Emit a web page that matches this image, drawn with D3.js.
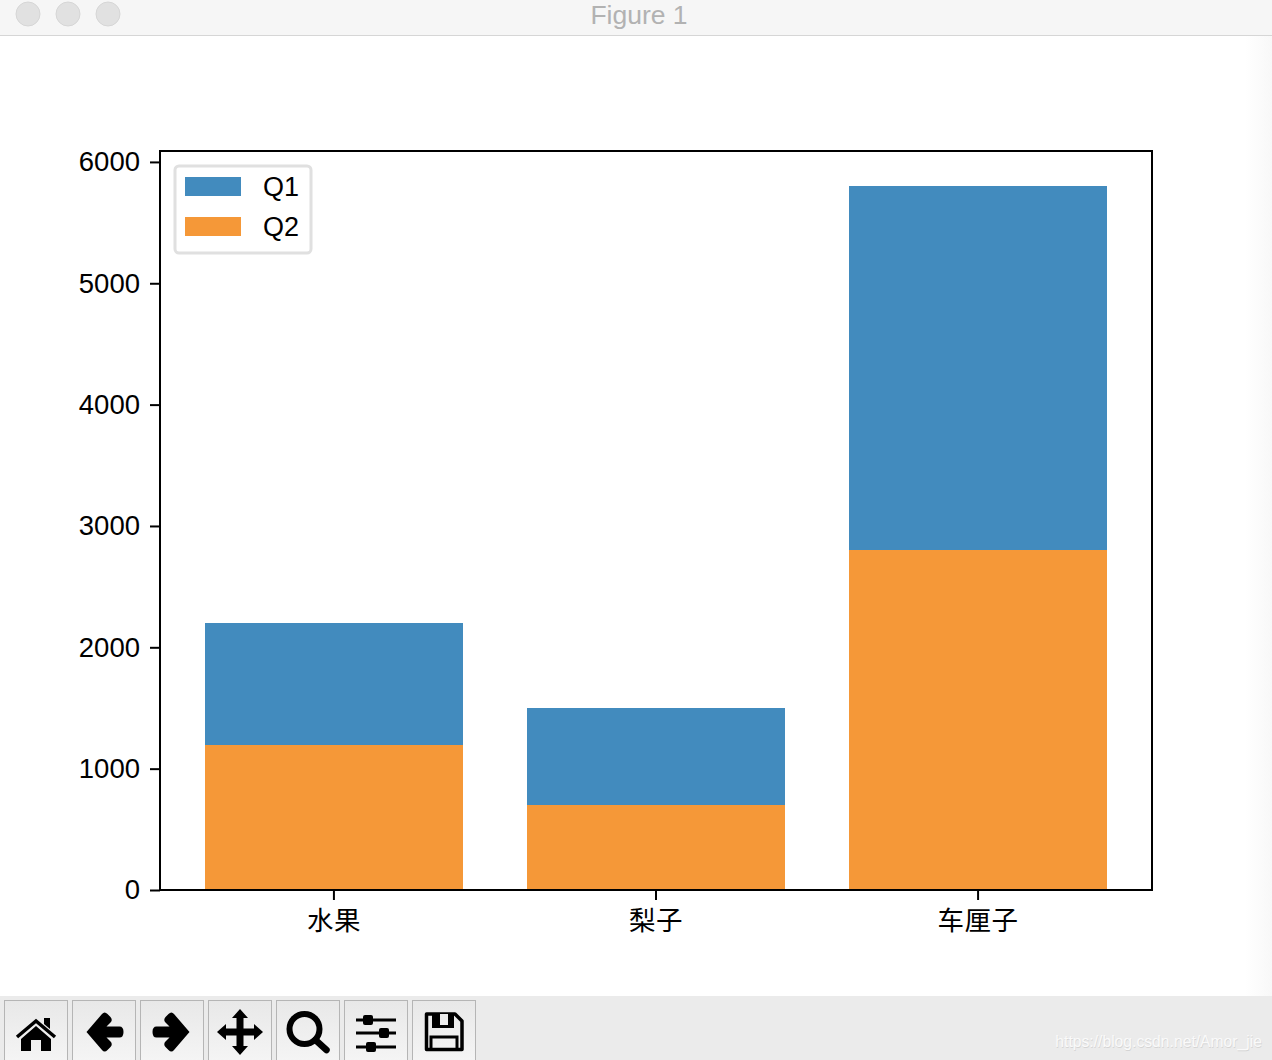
<!DOCTYPE html>
<html>
<head>
<meta charset="utf-8">
<script src="https://cdn.jsdelivr.net/npm/d3@7"></script>
<style>
  html, body { margin: 0; padding: 0; background: #fff; overflow: hidden; }
  svg { display: block; }
  text { font-family: "Liberation Sans", Arial, sans-serif; }
  .cjk { font-family: "Noto Sans CJK SC", sans-serif; }
</style>
</head>
<body>
<svg id="chart" width="1272" height="1060"></svg>
<script>
// datos
const categories = ['水果', '梨子', '车厘子'];
const q1Values = [1000, 800, 3000];
const q2Values = [1200, 700, 2800];
const seriesNames = ['Q1', 'Q2'];
const yTicks = [0, 1000, 2000, 3000, 4000, 5000, 6000];

const COLOR_Q1 = '#428bbe';
const COLOR_Q2 = '#f59838';

const W = 1272, H = 1060;
const plot = { left: 160, right: 1152, top: 151, bottom: 890 };

const svg = d3.select('#chart');

const defs = svg.append('defs');
const btnGrad = defs.append('linearGradient').attr('id', 'btn').attr('x1', 0).attr('y1', 0).attr('x2', 0).attr('y2', 1);
btnGrad.append('stop').attr('offset', '0%').attr('stop-color', '#e8e8e8');
btnGrad.append('stop').attr('offset', '100%').attr('stop-color', '#f5f5f5');
const edgeGrad = defs.append('linearGradient').attr('id', 'edge');
edgeGrad.append('stop').attr('offset', '0%').attr('stop-color', '#fff');
edgeGrad.append('stop').attr('offset', '100%').attr('stop-color', '#f8f8f8');

// ─── Ventana ──────────────────────────────────────────────
svg.append('rect').attr('x', 1245).attr('y', 36).attr('width', 27).attr('height', 960).attr('fill', 'url(#edge)');

svg.append('rect').attr('width', W).attr('height', 35).attr('fill', '#f6f6f6');
svg.append('rect').attr('y', 35).attr('width', W).attr('height', 1).attr('fill', '#d6d6d6');
[28, 68, 108].forEach(cx => {
  svg.append('circle').attr('cx', cx).attr('cy', 14).attr('r', 12)
    .attr('fill', '#e1e1e1').attr('stroke', '#d6d6d6');
});
svg.append('text').attr('x', 639).attr('y', 24).attr('text-anchor', 'middle')
  .attr('font-size', 26.5).attr('fill', '#b2b2b2').text('Figure 1');

// ─── Escalas ──────────────────────────────────────────────
const x = d3.scaleBand().domain(categories)
  .range([plot.left, plot.right])
  .paddingInner(0.2).paddingOuter(0.14);

const y = d3.scaleLinear().domain([0, 6090]).range([plot.bottom + 0.25, plot.top + 0.25]);

// ─── Barras apiladas (Q2 abajo, Q1 arriba) ────────────────
const g = svg.append('g').attr('shape-rendering', 'crispEdges');

g.selectAll('.bar-q2').data(categories).join('rect')
  .attr('class', 'bar-q2')
  .attr('x', d => x(d)).attr('width', x.bandwidth())
  .attr('y', (d, i) => y(q2Values[i]))
  .attr('height', (d, i) => y(0) - y(q2Values[i]))
  .attr('fill', COLOR_Q2);

g.selectAll('.bar-q1').data(categories).join('rect')
  .attr('class', 'bar-q1')
  .attr('x', d => x(d)).attr('width', x.bandwidth())
  .attr('y', (d, i) => y(q2Values[i] + q1Values[i]))
  .attr('height', (d, i) => y(q2Values[i]) - y(q2Values[i] + q1Values[i]))
  .attr('fill', COLOR_Q1);

// ─── Ejes ─────────────────────────────────────────────────
const yAxis = svg.append('g').attr('transform', `translate(${plot.left},0)`)
  .call(d3.axisLeft(y).tickValues(yTicks).tickSize(10).tickPadding(10).offset(0.25).tickFormat(d3.format('d')));
yAxis.select('.domain').remove();
yAxis.selectAll('line').attr('stroke', '#000').attr('stroke-width', 2);
yAxis.selectAll('text').attr('font-size', 27.5).attr('fill', '#000')
  .style('font-family', '"Liberation Sans", Arial, sans-serif');

const xAxis = svg.append('g').attr('transform', `translate(0,${plot.bottom})`)
  .call(d3.axisBottom(x).tickSize(10).tickPadding(11));
xAxis.select('.domain').remove();
xAxis.selectAll('line').attr('stroke', '#000').attr('stroke-width', 2);
xAxis.selectAll('text').attr('class', 'cjk').attr('font-size', 26.5).attr('fill', '#000')
  .style('font-family', '"Noto Sans CJK SC", sans-serif')
  .style('letter-spacing', '0.5px');

svg.append('rect')
  .attr('x', plot.left).attr('y', plot.top)
  .attr('width', plot.right - plot.left).attr('height', plot.bottom - plot.top)
  .attr('fill', 'none').attr('stroke', '#000').attr('stroke-width', 2);

// ─── Leyenda ──────────────────────────────────────────────
const legend = svg.append('g');
legend.append('rect').attr('x', 175).attr('y', 166).attr('width', 136).attr('height', 87).attr('rx', 4)
  .attr('fill', '#fff').attr('stroke', '#e0e0e0').attr('stroke-width', 3);
[COLOR_Q1, COLOR_Q2].forEach((c, i) => {
  legend.append('rect').attr('x', 185).attr('y', 177 + i * 40).attr('width', 56).attr('height', 19).attr('fill', c);
  legend.append('text').attr('x', 263).attr('y', 196 + i * 40)
    .attr('font-size', 27).attr('fill', '#000').text(seriesNames[i]);
});

// ─── Barra de herramientas ────────────────────────────────
svg.append('rect').attr('y', 996).attr('width', W).attr('height', 64).attr('fill', '#ebebeb');

const buttons = [4, 72, 140, 208, 276, 344, 412];
buttons.forEach(bx => {
  svg.append('rect').attr('x', bx + 0.5).attr('y', 1000.5).attr('width', 63).attr('height', 62)
    .attr('fill', 'url(#btn)').attr('stroke', '#b5b5b5');
});

const icon = (cx) => svg.append('g').attr('transform', `translate(${cx},1032)`);

// casa
const home = icon(36);
home.append('path').attr('d', 'M-19,5 L0,-11 L19,5').attr('fill', 'none').attr('stroke', '#000').attr('stroke-width', 3.5);
home.append('path').attr('d', 'M8,-14 H14 V-3 L8,-8 Z').attr('fill', '#000');
home.append('path').attr('d', 'M0,-6 L15,7 V19 H5 V8 H-5 V19 H-15 V7 Z').attr('fill', '#000');

// flechas
const arrow = 'M-18,0 L-2.5,-18 Q0,-21 3,-18 L6,-15 Q8.5,-12 6,-9.5 L2,-5.5 H15 Q19,-5.5 19,0 Q19,5.5 15,5.5 H2 L6,9.5 Q8.5,12 6,15 L3,18 Q0,21 -2.5,18 Z';
icon(104.5).append('path').attr('d', arrow).attr('fill', '#000');
icon(171.5).append('g').attr('transform', 'scale(-1,1)').append('path').attr('d', arrow).attr('fill', '#000');

// mover
icon(240).append('path').attr('fill', '#000')
  .attr('d', 'M0,-23 L8,-14 H3.5 V-3.5 H14 V-8 L23,0 L14,8 V3.5 H3.5 V14 H8 L0,23 L-8,14 H-3.5 V3.5 H-14 V8 L-23,0 L-14,-8 V-3.5 H-3.5 V-14 H-8 Z');

// lupa
const zoomIcon = icon(304.5);
zoomIcon.append('circle').attr('cx', 0).attr('cy', -3).attr('r', 15).attr('fill', 'none').attr('stroke', '#000').attr('stroke-width', 6);
zoomIcon.append('line').attr('x1', 11).attr('y1', 8).attr('x2', 22).attr('y2', 18).attr('stroke', '#000').attr('stroke-width', 6.5).attr('stroke-linecap', 'round');

// ajustes
const sliders = icon(376);
[[-12, -8], [1, 8], [15, -5]].forEach(([dy, dx]) => {
  sliders.append('line').attr('x1', -20).attr('x2', 20).attr('y1', dy).attr('y2', dy).attr('stroke', '#000').attr('stroke-width', 3);
  sliders.append('rect').attr('x', dx - 5).attr('y', dy - 5).attr('width', 10).attr('height', 10).attr('rx', 2).attr('fill', '#000');
});

// guardar
const save = icon(444);
save.append('path').attr('d', 'M-17.5,-18 H11 L18,-11 V17.5 H-17.5 Z').attr('fill', 'none').attr('stroke', '#000').attr('stroke-width', 3.5).attr('stroke-linejoin', 'round');
save.append('path').attr('d', 'M-12,-18 H10 V-4 H-12 Z').attr('fill', '#000');
save.append('rect').attr('x', -4).attr('y', -18).attr('width', 8).attr('height', 11).attr('fill', '#ececec');
save.append('path').attr('d', 'M-13,17 V5 H13 V17').attr('fill', 'none').attr('stroke', '#000').attr('stroke-width', 3);

// marca de agua
svg.append('text').attr('x', 1262.5).attr('y', 1047.5).attr('text-anchor', 'end')
  .attr('font-size', 15.7).attr('fill', '#d4d4d4').text('https://blog.csdn.net/Amor_jie');
svg.append('text').attr('x', 1262).attr('y', 1047).attr('text-anchor', 'end')
  .attr('font-size', 15.7).attr('fill', '#fafafa').text('https://blog.csdn.net/Amor_jie');
</script>
</body>
</html>
